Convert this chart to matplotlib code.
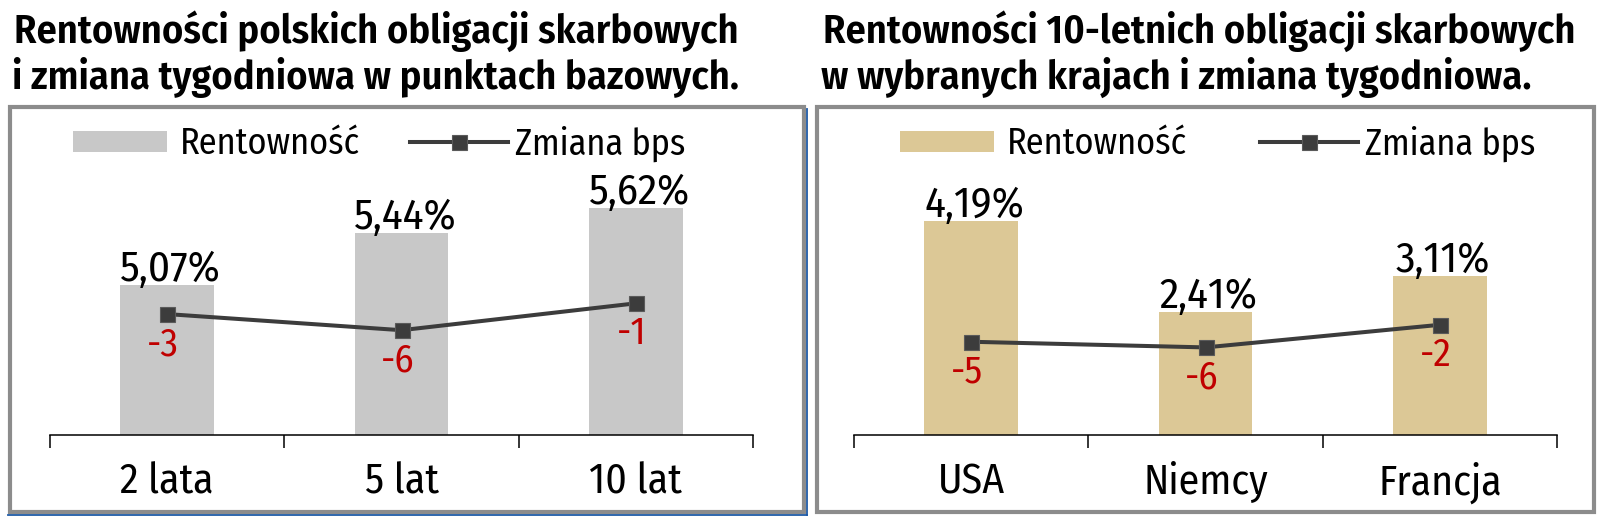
import matplotlib
matplotlib.use("Agg")
import matplotlib.pyplot as plt
from matplotlib.patches import Rectangle
from matplotlib.lines import Line2D

W, H = 1601, 518

# data
pl_categories = ['2 lata', '5 lat', '10 lat']
pl_yield = [5.07, 5.44, 5.62]
pl_change = [-3, -6, -1]

world_categories = ['USA', 'Niemcy', 'Francja']
world_yield = [4.19, 2.41, 3.11]
world_change = [-5, -6, -2]

pl_title = ['Rentowności polskich obligacji skarbowych',
            'i zmiana tygodniowa w punktach bazowych.']
world_title = ['Rentowności 10-letnich obligacji skarbowych',
               'w wybranych krajach i zmiana tygodniowa.']

plt.rcParams['font.family'] = ['Fira Sans Condensed', 'Liberation Sans', 'DejaVu Sans']

BOX_COLOR = '#8c8c8c'
LINE_COLOR = '#3c3c3c'
RED = '#c00000'


def px_x(x):
    return x / W


def px_y(y):
    return 1 - y / H


def draw_panel(fig, left_px, cats, yields, changes, bar_color, ylim, ylim2,
               title, title_x, box, legend_x):
    ax = fig.add_axes([px_x(left_px), px_y(435), 703 / W, 280 / H])
    x = list(range(len(cats)))
    bars = ax.bar(x, yields, width=0.4, color=bar_color, zorder=2)
    ax.set_xlim(-0.5, len(cats) - 0.5)
    ax.set_ylim(*ylim)
    for s in ['top', 'left', 'right']:
        ax.spines[s].set_visible(False)
    ax.spines['bottom'].set_linewidth(1.1)
    ax.set_yticks([])
    ax.set_xticks(x)
    ax.set_xticklabels(cats, fontsize=30)
    ax.tick_params(axis='x', which='major', length=0, pad=19)
    ax.set_xticks([i - 0.5 for i in range(len(cats) + 1)], minor=True)
    ax.tick_params(axis='x', which='minor', length=9, width=1.1, direction='out')

    for xi, v in zip(x, yields):
        ax.annotate(f"{v:.2f}%".replace('.', ','), (xi, v), xytext=(2, 3),
                    textcoords='offset points', ha='center', va='baseline',
                    fontsize=31)

    ax2 = ax.twinx()
    ax2.set_ylim(*ylim2)
    ax2.set_yticks([])
    for s in ax2.spines.values():
        s.set_visible(False)
    line, = ax2.plot(x, changes, color=LINE_COLOR, lw=2.9, marker='s',
                     markersize=10.8, markerfacecolor=LINE_COLOR,
                     markeredgecolor='#5a5a5a', markeredgewidth=0.8, zorder=3)
    for xi, v in zip(x, changes):
        ax2.annotate(str(v), (xi, v), xytext=(-3, -29.5),
                     textcoords='offset points', ha='center', va='baseline',
                     fontsize=28, color=RED)

    ax.legend([bars], ['Rentowność'], loc='center left',
              bbox_to_anchor=(px_x(legend_x[0]), px_y(144)),
              bbox_transform=fig.transFigure, frameon=False,
              fontsize=26, handlelength=2.6, handleheight=0.53,
              handletextpad=0.36, borderpad=0, borderaxespad=0)
    ax2.legend([line], ['Zmiana bps'], loc='center left',
               bbox_to_anchor=(px_x(legend_x[1]), px_y(144)),
               bbox_transform=fig.transFigure, frameon=False,
               fontsize=26, handlelength=2.7, handletextpad=0.22,
               borderpad=0, borderaxespad=0)

    fig.text(px_x(title_x), px_y(43), title[0], fontsize=29,
             fontweight='semibold', va='baseline', ha='left')
    fig.text(px_x(title_x - 2), px_y(89), title[1], fontsize=29,
             fontweight='semibold', va='baseline', ha='left')

    bx0, by0, bx1, by1 = box
    fig.add_artist(Rectangle((px_x(bx0), px_y(by1)), (bx1 - bx0) / W,
                             (by1 - by0) / H, transform=fig.transFigure,
                             fill=False, edgecolor=BOX_COLOR, lw=3))
    return ax


def main():
    fig = plt.figure(figsize=(W / 100, H / 100), dpi=100)

    draw_panel(fig, 50, pl_categories, pl_yield, pl_change, '#c8c8c8',
               (4.0, 6.0), (-25.5, 26.6), pl_title, 14, (10, 107, 804, 512),
               (73, 410))
    draw_panel(fig, 854, world_categories, world_yield, world_change, '#dcc896',
               (0, 5.49), (-21.5, 28.05), world_title, 823, (817, 107, 1594, 512),
               (900, 1260))

    # thin blue edge along the left box
    fig.add_artist(Line2D([px_x(807), px_x(807)], [px_y(109), px_y(515)],
                          transform=fig.transFigure, color='#1f5aa6', lw=1.3))
    fig.add_artist(Line2D([px_x(8), px_x(807)], [px_y(515), px_y(515)],
                          transform=fig.transFigure, color='#1f5aa6', lw=1.3))

    fig.savefig('out.png', dpi=100)


if __name__ == "__main__":
    main()
